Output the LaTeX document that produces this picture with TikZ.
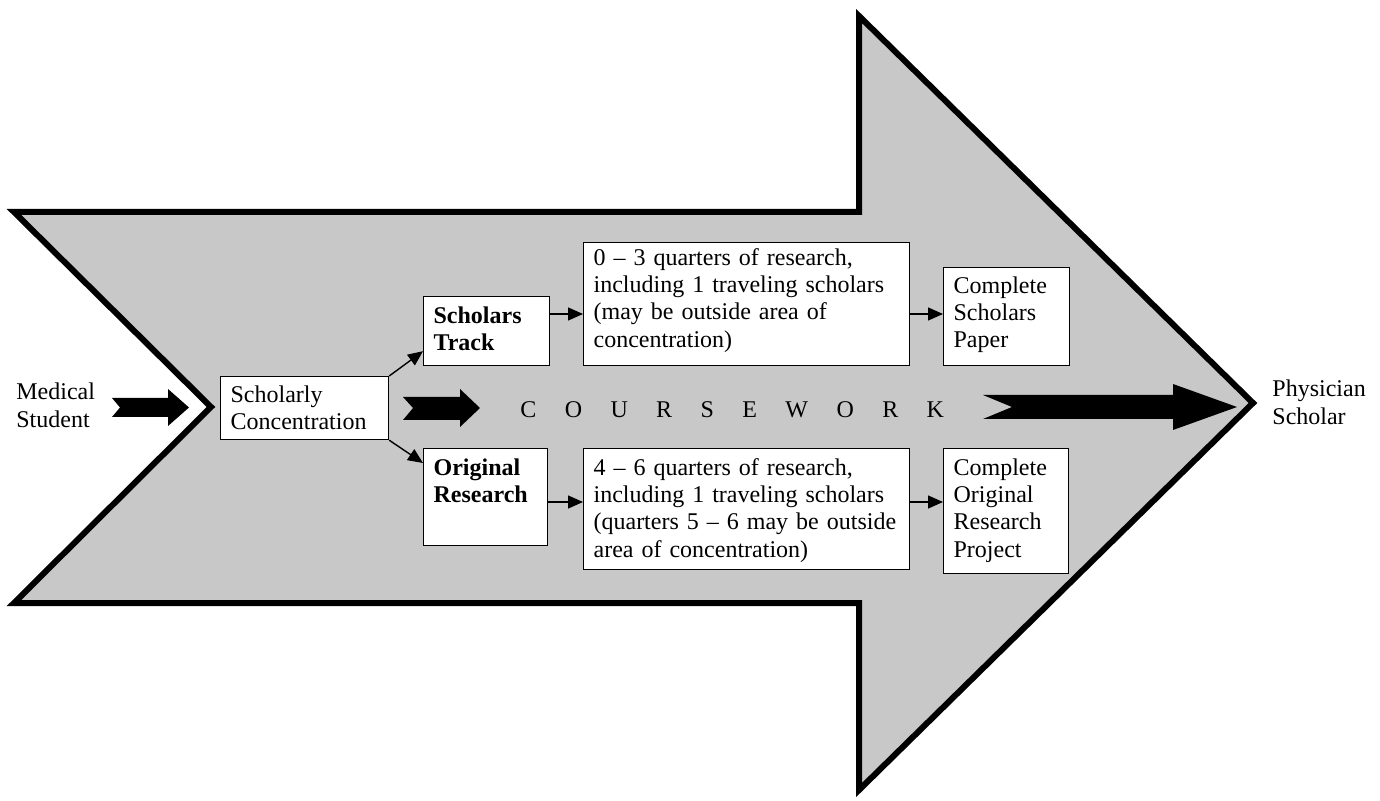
\documentclass[tikz,border=0pt]{standalone}
\usepackage{fontspec}
\setmainfont{Liberation Serif}
\usetikzlibrary{arrows.meta,calc}
\definecolor{shaft}{RGB}{200,200,200}
\begin{document}
\begin{tikzpicture}[x=0.5pt,y=-0.5pt,
  font=\fontsize{12}{13.6}\selectfont,
  box/.style={draw=black,line width=0.6pt,fill=white,anchor=north west,align=left,inner xsep=5pt,inner ysep=0pt},
  plain/.style={align=left,inner sep=0pt,text width=60pt},
  conn/.style={line width=0.7pt,-{Triangle[length=7.5pt,width=6.5pt]}},
  blk/.style={fill=black,draw=none}]
\useasboundingbox (0,0) rectangle (1380,801);
\fill[white] (0,0) rectangle (1380,801);
% big arrow
\draw[line width=3pt,fill=shaft] (14,212) -- (859,212) -- (859,16) -- (1253,403) -- (859,790) -- (859,603) -- (14,603) -- (211,407) -- cycle;
% black block arrows
\fill[blk] (112,398) -- (168,398) -- (168,389) -- (189,407.5) -- (168,426) -- (168,417) -- (112,417) -- (120,407.5) -- cycle;
\fill[blk] (403,397) -- (460,397) -- (460,389) -- (480,408) -- (460,427) -- (460,420) -- (403,420) -- (413,408) -- cycle;
\fill[blk] (983,395) -- (1173,395) -- (1173,384) -- (1237,407) -- (1173,430) -- (1173,419) -- (983,419) -- (1012,407) -- cycle;
% texts
\node[plain,anchor=base west] (ms) at (16,400) {Medical\\Student};
\node[plain,anchor=base west] (ps) at (1272,397) {Physician\\Scholar};
\node[anchor=base west,inner sep=0pt] (cw) at (520,418) {\spaceskip=14.2pt\relax C O U R S E W O R K};
% boxes
\node[box,text width=74pt,text height=13pt,text depth=18.5pt] (sc) at (220,376) {Scholarly\\Concentration};
\node[box,font=\fontsize{12}{13.6}\selectfont\bfseries,text width=53pt,text height=13.5pt,text depth=21pt] (st) at (423,296) {Scholars\\Track};
\node[box,text width=153pt,text height=11.5pt,text depth=50pt] (q03) at (583,242) {0 – 3 quarters of research,\\including 1 traveling scholars\\(may be outside area of\\concentration)};
\node[box,text width=53pt,text height=13pt,text depth=36pt] (csp) at (943,267) {Complete\\Scholars\\Paper};
\node[box,font=\fontsize{12}{13.6}\selectfont\bfseries,text width=52pt,text height=13.5pt,text depth=35pt] (orr) at (423,448) {Original\\Research};
\node[box,text width=153pt,text height=13.5pt,text depth=47pt] (q46) at (583,448) {4 – 6 quarters of research,\\including 1 traveling scholars\\(quarters 5 – 6 may be outside\\area of concentration)};
\node[box,text width=52.5pt,text height=13.5pt,text depth=49pt] (corp) at (943,448) {Complete\\Original\\Research\\Project};
% connectors
\coordinate (ya) at (0,314);
\coordinate (yb) at (0,502);
\draw[conn] (sc.north east) -- ($(st.south west)+(0,-15)$);
\draw[conn] (sc.south east) -- ($(orr.north west)+(0,15)$);
\draw[conn] (st.east |- ya) -- (q03.west |- ya);
\draw[conn] (q03.east |- ya) -- (csp.west |- ya);
\draw[conn] (orr.east |- yb) -- (q46.west |- yb);
\draw[conn] (q46.east |- yb) -- (corp.west |- yb);
\end{tikzpicture}
\end{document}
